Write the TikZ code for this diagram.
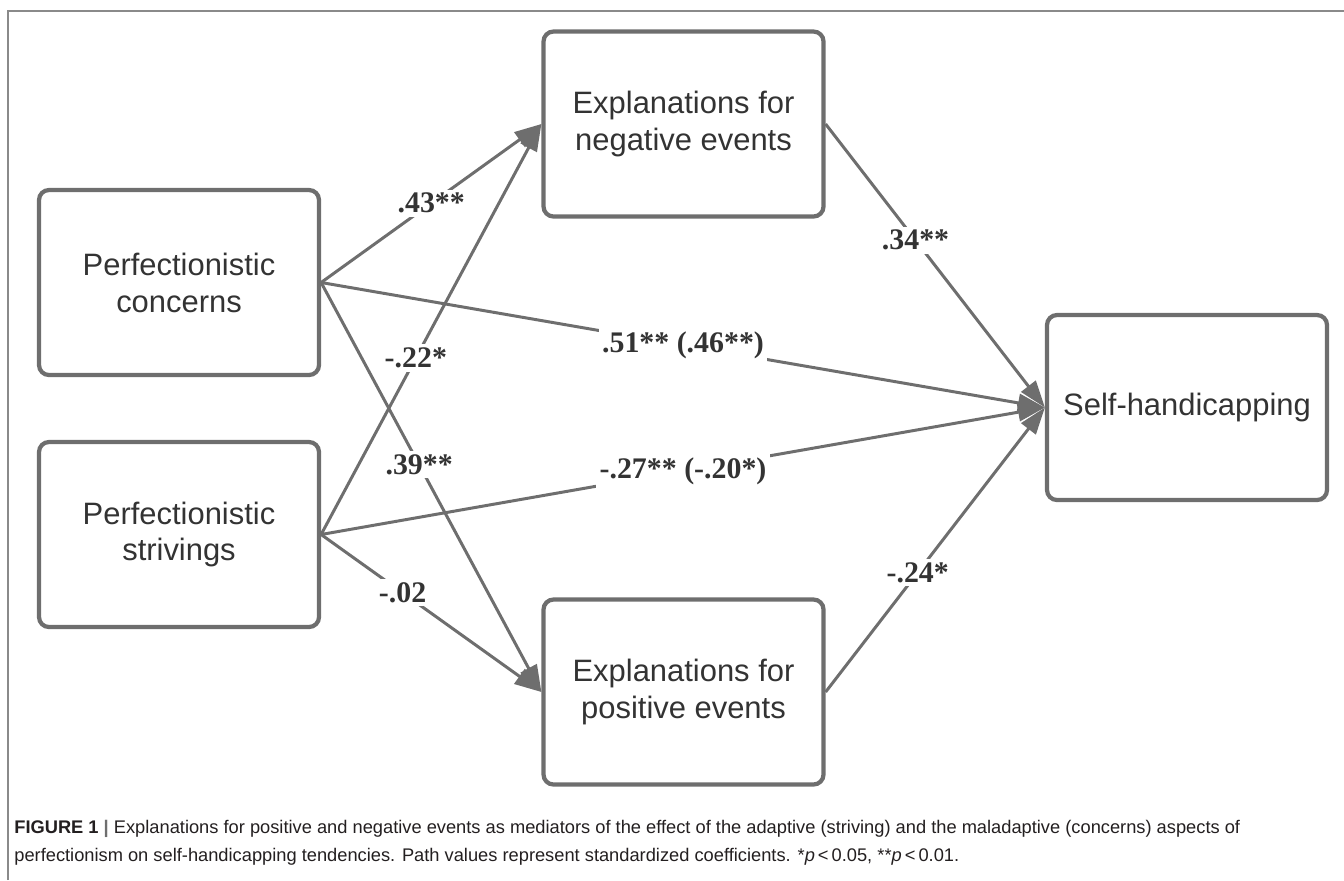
\documentclass[tikz,border=0pt]{standalone}
\usepackage{fontspec}
\setmainfont{Liberation Sans}
\newfontfamily\coeffont{Liberation Serif}
\usepackage{xcolor}
\usepackage{tikz}
\usetikzlibrary{arrows}
\usetikzlibrary{arrows.meta}

\definecolor{boxgray}{HTML}{6E6E6E}
\definecolor{framegray}{HTML}{8A8A8A}
\definecolor{textgray}{HTML}{333333}
\definecolor{capblack}{HTML}{231F20}

\begin{document}
\begin{tikzpicture}[
    >={Triangle[length=0.54cm, width=0.36cm]},
    var/.style={rectangle, rounded corners=0.2cm, draw=boxgray, line width=2.4pt,
        minimum width=5.6cm, minimum height=3.7cm, align=center, text=textgray,
        font=\fontsize{17.6}{21}\selectfont},
    coef/.style={fill=white, inner sep=2pt, text=textgray,
        font=\coeffont\bfseries\fontsize{17}{19}\selectfont},
    caption/.style={anchor=base west, inner sep=0pt, text=capblack,
        font=\fontsize{10.4}{13}\selectfont},
    every edge/.append style={draw=boxgray, ->, line width=1.7pt}
]
\useasboundingbox (0,0) rectangle (26.88,-17.6);

% Frame :
\draw[framegray, line width=0.8pt] (0.16,-17.6) |- (26.88,-0.22);

% Nodes :
\node[var] (PC) at (3.58, -5.65) {Perfectionistic\\concerns};
\node[var] (PS) at (3.58, -10.69) {Perfectionistic\\strivings};
\node[var] (NE) at (13.67, -2.48) {Explanations for\\negative events};
\node[var] (PO) at (13.67, -13.84) {Explanations for\\positive events};
\node[var] (SH) at (23.74, -8.15) {Self-handicapping};

% Edges :
\path (PC.east) edge node[coef, pos=0.5] (c1) {.43**} (NE.west);
\path (PS.east) edge node[coef, pos=0.43] (c2) {-.22*} (NE.west);
\path (PC.east) edge node[coef, pos=0.445] (c3) {.39**} (PO.west);
\path (PS.east) edge node[coef, pos=0.37] (c4) {-.02} (PO.west);

\path (PC.east) edge node[coef, pos=0.5] (c5) {.51** (.46**)} (SH.west);
\path (PS.east) edge node[coef, pos=0.5] (c6) {-.27** (-.20*)} (SH.west);

\path (NE.east) edge node[coef, pos=0.41] (c7) {.34**} (SH.west);
\path (PO.east) edge node[coef, pos=0.42] (c8) {-.24*} (SH.west);

% Caption :
\node[caption] (cap1) at (0.28, -16.66) {\textbf{FIGURE 1} {\bfseries\color{boxgray}|} Explanations for positive and negative events as mediators of the effect of the adaptive (striving) and the maladaptive (concerns) aspects of};
\node[caption] (cap2) at (0.28, -17.22) {perfectionism on self-handicapping tendencies. Path values represent standardized coefficients. *\textit{p}\,<\,0.05, **\textit{p}\,<\,0.01.};

\end{tikzpicture}
\end{document}
